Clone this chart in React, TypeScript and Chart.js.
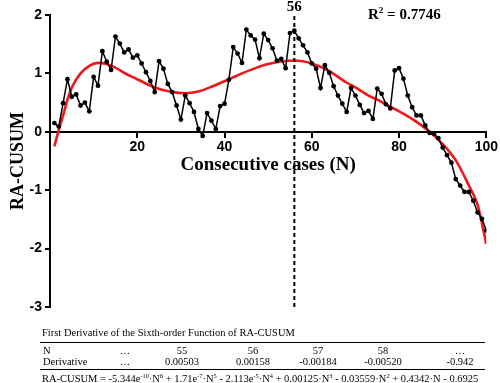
import React, { useEffect, useRef } from 'react';
import { Chart, registerables } from 'chart.js';

Chart.register(...registerables);

// ---- data ----
const caseNumbers = [
  1, 2, 3, 4, 5, 6, 7, 8, 9, 10, 11, 12, 13, 14, 15, 16, 17, 18, 19, 20,
  21, 22, 23, 24, 25, 26, 27, 28, 29, 30, 31, 32, 33, 34, 35, 36, 37, 38, 39, 40,
  41, 42, 43, 44, 45, 46, 47, 48, 49, 50, 51, 52, 53, 54, 55, 56, 57, 58, 59, 60,
  61, 62, 63, 64, 65, 66, 67, 68, 69, 70, 71, 72, 73, 74, 75, 76, 77, 78, 79, 80,
  81, 82, 83, 84, 85, 86, 87, 88, 89, 90, 91, 92, 93, 94, 95, 96, 97, 98, 99, 100,
];

const raCusum = [
  0.15, 0.09, 0.49, 0.90, 0.60, 0.64, 0.45, 0.50, 0.35, 0.94,
  0.79, 1.38, 1.20, 1.06, 1.63, 1.51, 1.36, 1.41, 1.27, 1.31,
  1.17, 1.02, 0.87, 0.68, 1.21, 1.08, 0.82, 0.68, 0.45, 0.21,
  0.62, 0.49, 0.34, 0.05, -0.07, 0.32, 0.19, 0.05, 0.44, 0.48,
  0.89, 1.45, 1.34, 1.18, 1.75, 1.65, 1.58, 1.26, 1.68, 1.57,
  1.43, 1.22, 1.25, 1.09, 1.69, 1.73, 1.60, 1.48, 1.36, 1.17,
  1.08, 0.75, 1.14, 1.01, 0.78, 0.62, 0.48, 0.34, 0.75, 0.62,
  0.46, 0.32, 0.36, 0.22, 0.74, 0.65, 0.47, 0.40, 1.05, 1.09,
  0.91, 0.62, 0.42, 0.28, 0.28, 0.11, -0.02, -0.03, -0.11, -0.27,
  -0.40, -0.53, -0.81, -0.92, -1.03, -1.03, -1.18, -1.38, -1.49, -1.69,
];

// sixth-order fit
const fitN = [1, 2, 3, 4, 5, 7, 9, 11, 13, 15, 17, 20, 24, 28, 31, 34, 37, 41, 46, 50, 56, 60, 64, 68, 70, 73, 75, 78, 80, 83, 87, 90, 93, 96, 98, 100];
const fitValues = [-0.25, 0.03, 0.28, 0.55, 0.76, 1.0, 1.13, 1.18, 1.16, 1.1, 1.01, 0.9, 0.76, 0.68, 0.66, 0.69, 0.77, 0.9, 1.06, 1.16, 1.22, 1.17, 1.04, 0.84, 0.76, 0.62, 0.55, 0.43, 0.35, 0.22, 0.0, -0.21, -0.49, -0.92, -1.25, -1.92];

const markerN = 56;
const rSquared = '0.7746';
const xTicks = [20, 40, 60, 80, 100];
const yTicks = [2, 1, 0, -1, -2, -3];

const tableTitle = 'First Derivative of the Sixth-order Function of RA-CUSUM';
const derivN = ['…', '55', '56', '57', '58', '…'];
const derivValues = ['…', '0.00503', '0.00158', '-0.00184', '-0.00520', '-0.942'];

const serif = '"Liberation Serif", "Times New Roman", serif';
const sans = '"Liberation Sans", Arial, sans-serif';

const annotationPlugin = {
  id: 'annotationText',
  afterDraw(chart: any) {
    const { ctx, scales } = chart;
    const x = scales.x;
    ctx.save();
    ctx.fillStyle = '#000';
    ctx.textBaseline = 'alphabetic';
    ctx.font = `bold 15px ${serif}`;
    ctx.textAlign = 'center';
    ctx.fillText(String(markerN), x.getPixelForValue(markerN), 11);
    ctx.textAlign = 'left';
    let px = 368;
    const base = 19;
    ctx.font = `bold 15px ${serif}`;
    ctx.fillText('R', px, base);
    px += ctx.measureText('R').width;
    ctx.font = `bold 9px ${serif}`;
    ctx.fillText('2', px, base - 6);
    px += ctx.measureText('2').width;
    ctx.font = `bold 15px ${serif}`;
    ctx.fillText(' = ' + rSquared, px, base);
    ctx.restore();
  },
};

function ChartCanvas() {
  const ref = useRef<HTMLCanvasElement | null>(null);
  useEffect(() => {
    if (!ref.current) return;
    const chart = new Chart(ref.current, {
      type: 'line',
      data: {
        datasets: [
          {
            label: 'RA-CUSUM',
            data: caseNumbers.map((n, i) => ({ x: n, y: raCusum[i] })),
            borderColor: '#000',
            backgroundColor: '#000',
            borderWidth: 1.5,
            pointRadius: 2.4,
            pointBackgroundColor: '#000',
            pointBorderWidth: 0,
            tension: 0,
            order: 0,
          },
          {
            label: 'marker',
            data: [
              { x: markerN, y: -3 },
              { x: markerN, y: 2 },
            ],
            borderColor: '#000',
            borderWidth: 2,
            borderDash: [4, 3],
            pointRadius: 0,
            order: 1,
          },
          {
            label: 'fit',
            data: fitN.map((n, i) => ({ x: n, y: fitValues[i] })),
            borderColor: '#f2161b',
            borderWidth: 2.6,
            pointRadius: 0,
            cubicInterpolationMode: 'monotone',
            order: 2,
          },
        ],
      },
      options: {
        responsive: false,
        animation: false,
        events: [],
        layout: { padding: { left: 0, right: 13, top: 15, bottom: 76 } },
        plugins: {
          legend: { display: false },
          tooltip: { enabled: false },
        },
        scales: {
          x: {
            type: 'linear',
            min: 0,
            max: 100,
            position: { y: 0 } as any,
            afterBuildTicks: (s: any) => {
              s.ticks = [0, ...xTicks].map((v) => ({ value: v }));
            },
            ticks: {
              callback: (v: any) => (v === 0 ? '' : String(v)),
              font: { family: sans, weight: 'bold', size: 14 },
              color: '#000',
              padding: 2,
              maxRotation: 0,
              autoSkip: false,
            },
            grid: { drawOnChartArea: false, drawTicks: true, tickLength: 5, color: '#000', lineWidth: 2 },
            border: { display: true, color: '#000', width: 2 },
            title: {
              display: true,
              text: 'Consecutive cases (N)',
              font: { family: serif, weight: 'bold', size: 19 },
              color: '#000',
              padding: { top: -4, bottom: 0 },
            },
          },
          y: {
            type: 'linear',
            min: -3,
            max: 2,
            afterBuildTicks: (s: any) => {
              s.ticks = yTicks.map((v) => ({ value: v }));
            },
            afterFit: (s: any) => {
              s.width = 50;
            },
            ticks: {
              font: { family: sans, weight: 'bold', size: 14 },
              color: '#000',
              padding: 3,
            },
            grid: { drawOnChartArea: false, drawTicks: true, tickLength: 5, color: '#000', lineWidth: 2 },
            border: { display: true, color: '#000', width: 2 },
            title: {
              display: true,
              text: 'RA-CUSUM',
              font: { family: serif, weight: 'bold', size: 18 },
              color: '#000',
              padding: { top: 8, bottom: 0 },
            },
          },
        },
      },
      plugins: [annotationPlugin],
    } as any);
    return () => chart.destroy();
  }, []);
  return <canvas ref={ref} width={500} height={383} style={{ position: 'absolute', left: 0, top: 0, width: 500, height: 383 }} />;
}

const colCenters = [125, 182, 253, 318, 383, 460];

const txt: React.CSSProperties = {
  position: 'absolute',
  fontFamily: serif,
  fontSize: 10.5,
  lineHeight: '12px',
  color: '#000',
  whiteSpace: 'nowrap',
};

const sup: React.CSSProperties = { fontSize: '0.6em', verticalAlign: 'super', lineHeight: 0 };

export default function App() {
  return (
    <div style={{ position: 'fixed', left: 0, top: 0, width: 500, height: 383, background: '#fff', overflow: 'hidden' }}>
      <ChartCanvas />
      <div style={{ ...txt, left: 42, top: 327 }}>{tableTitle}</div>
      <div style={{ position: 'absolute', left: 40, width: 445, top: 342, borderTop: '1px solid #000' }} />
      <div style={{ ...txt, left: 43, top: 345 }}>N</div>
      <div style={{ ...txt, left: 43, top: 356 }}>Derivative</div>
      {derivN.map((t, i) => (
        <div key={'n' + i} style={{ ...txt, left: colCenters[i] - 40, width: 80, textAlign: 'center', top: 345 }}>{t}</div>
      ))}
      {derivValues.map((t, i) => (
        <div key={'d' + i} style={{ ...txt, left: colCenters[i] - 40, width: 80, textAlign: 'center', top: 356 }}>{t}</div>
      ))}
      <div style={{ position: 'absolute', left: 40, width: 445, top: 369, borderTop: '1px solid #000' }} />
      <div style={{ ...txt, left: 42, top: 372.5 }}>
        RA-CUSUM = -5.344e<span style={sup}>-10</span>·N<span style={sup}>6</span> + 1.71e<span style={sup}>-7</span>·N
        <span style={sup}>5</span> - 2.113e<span style={sup}>-5</span>·N<span style={sup}>4</span> + 0.00125·N
        <span style={sup}>3</span> - 0.03559·N<span style={sup}>2</span> + 0.4342·N - 0.6925
      </div>
    </div>
  );
}
